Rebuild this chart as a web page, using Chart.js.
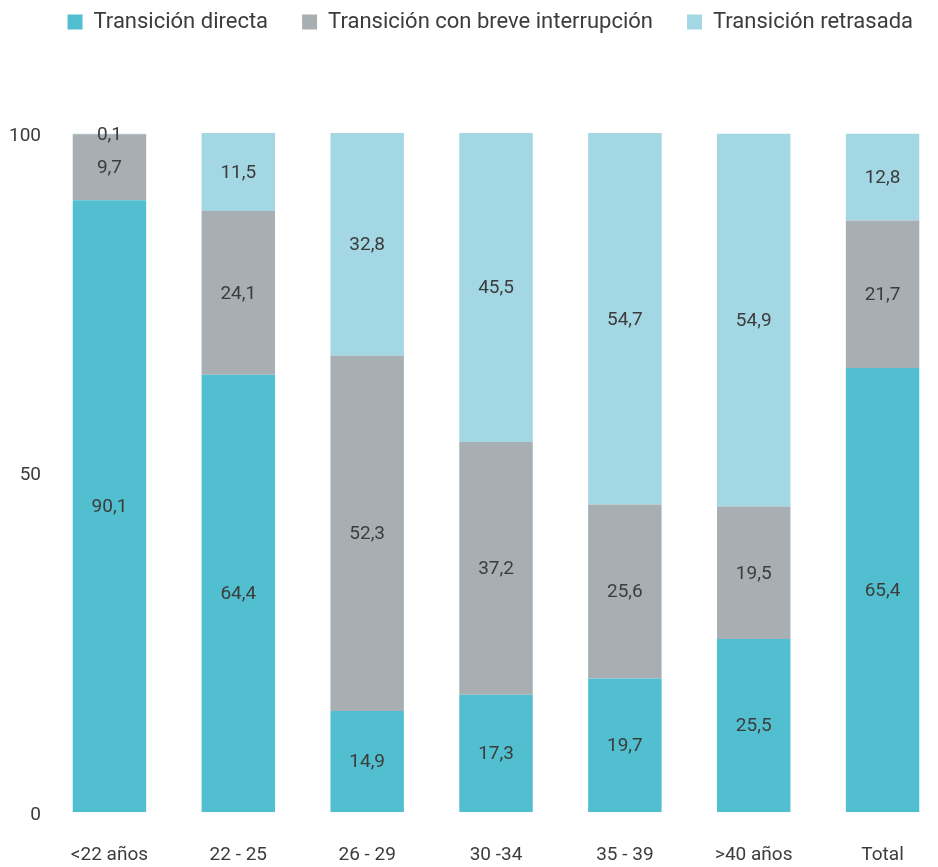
<!DOCTYPE html>
<html>
<head>
<meta charset="utf-8">
<script src="https://cdn.jsdelivr.net/npm/chart.js@4.4.1/dist/chart.umd.min.js"></script>
<style>
  html, body { margin: 0; padding: 0; background: #fff; overflow: hidden; }
  canvas { display: block; }
</style>
</head>
<body>
<canvas id="grafico" width="955" height="867"></canvas>
<script>
const categorias = ['<22 años', '22 - 25', '26 - 29', '30 -34', '35 - 39', '>40 años', 'Total'];
const directa = [90.1, 64.4, 14.9, 17.3, 19.7, 25.5, 65.4];
const breve = [9.7, 24.1, 52.3, 37.2, 25.6, 19.5, 21.7];
const retrasada = [0.1, 11.5, 32.8, 45.5, 54.7, 54.9, 12.8];
const ticksY = [0, 50, 100];

const textColor = '#3c3c3c';
const fontFamily = 'Roboto, "DejaVu Sans", sans-serif';

// etiquetas dentro de las barras
const etiquetas = {
  id: 'etiquetas',
  afterDatasetsDraw(chart) {
    const ctx = chart.ctx;
    ctx.save();
    ctx.font = '19px ' + fontFamily;
    ctx.fillStyle = textColor;
    ctx.textAlign = 'center';
    ctx.textBaseline = 'middle';
    chart.data.datasets.forEach((ds, i) => {
      const meta = chart.getDatasetMeta(i);
      meta.data.forEach((bar, j) => {
        const p = bar.getProps(['x', 'y', 'base'], true);
        const txt = String(ds.data[j]).replace('.', ',');
        ctx.fillText(txt, p.x, (p.y + p.base) / 2 + 1);
      });
    });
    ctx.restore();
  }
};

// espacio debajo de la leyenda
const margenLeyenda = {
  id: 'margenLeyenda',
  beforeInit(chart) {
    const fit = chart.legend.fit;
    chart.legend.fit = function () {
      fit.bind(chart.legend)();
      this.height += 90;
    };
  }
};

const data = {
  labels: categorias,
  datasets: [
    { label: 'Transición directa', data: directa, backgroundColor: '#52bfd0' },
    { label: 'Transición con breve interrupción', data: breve, backgroundColor: '#a8afb2' },
    { label: 'Transición retrasada', data: retrasada, backgroundColor: '#a2d7e3' }
  ]
};

const options = {
  responsive: false,
  animation: false,
  layout: { padding: { left: 5, right: 8, top: -23, bottom: -32 } },
  datasets: {
    bar: { barPercentage: 0.57, categoryPercentage: 1, borderWidth: 0 }
  },
  plugins: {
    legend: {
      position: 'top',
      align: 'end',
      labels: {
        boxWidth: 15,
        boxHeight: 15,
        padding: 34,
        color: textColor,
        font: { family: fontFamily, size: 22 }
      }
    },
    tooltip: { enabled: false }
  },
  scales: {
    x: {
      stacked: true,
      grid: { display: false, drawTicks: false },
      border: { display: false },
      ticks: { color: textColor, padding: 32, font: { family: fontFamily, size: 19 } }
    },
    y: {
      stacked: true,
      min: 0,
      max: 100,
      afterBuildTicks(axis) { axis.ticks = ticksY.map(v => ({ value: v })); },
      grid: { display: false, drawTicks: false },
      border: { display: false },
      ticks: { color: textColor, padding: 4, labelOffset: 3, font: { family: fontFamily, size: 19 } }
    }
  }
};

new Chart(document.getElementById('grafico'), {
  type: 'bar',
  data: data,
  options: options,
  plugins: [etiquetas, margenLeyenda]
});
</script>
</body>
</html>
